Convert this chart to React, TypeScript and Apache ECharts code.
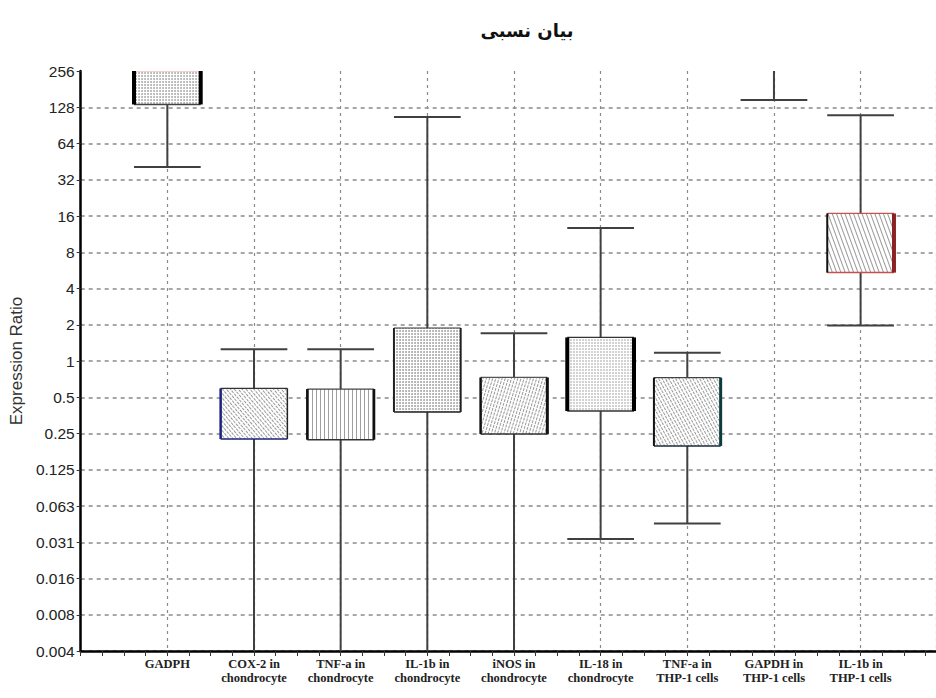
import React, { useEffect, useRef } from "react";
import * as echarts from "echarts";

const TITLE = "بیان نسبی";
const Y_NAME = "Expression Ratio";
const CATEGORIES = [
  "GADPH",
  "COX-2 in\nchondrocyte",
  "TNF-a in\nchondrocyte",
  "IL-1b in\nchondrocyte",
  "iNOS in\nchondrocyte",
  "IL-18 in\nchondrocyte",
  "TNF-a in\nTHP-1 cells",
  "GAPDH in\nTHP-1 cells",
  "IL-1b in\nTHP-1 cells",
];
// values below 1/256 or above 256 run off the plotted range
const WHISKER_LOW = [40.8, 0.002, 0.002, 0.002, 0.002, 0.0333, 0.0448, 147, 1.97];
const BOX_LOW = [135, 0.225, 0.222, 0.377, 0.248, 0.384, 0.197, 300, 5.42];
const BOX_HIGH = [256, 0.593, 0.585, 1.88, 0.73, 1.57, 0.727, 400, 16.8];
const WHISKER_HIGH = [256, 1.25, 1.25, 106, 1.7, 12.7, 1.17, 500, 110];

const Y_MIN = 1 / 256;
const Y_MAX = 256;
const X_MAX = 9.87;

// per-box outline styling (visual only)
const EDGES = [
  { l: 4, r: 4, lc: "#000", rc: "#000", top: "#f4a08c", bottom: "#444" },
  { l: 2.5, r: 1.5, lc: "#1a237e", rc: "#222", top: "#333", bottom: "#1a237e" },
  { l: 2.5, r: 2.5, lc: "#111", rc: "#111", top: "#444", bottom: "#333" },
  { l: 2, r: 2, lc: "#222", rc: "#222", top: "#333", bottom: "#222" },
  { l: 2.5, r: 3, lc: "#111", rc: "#111", top: "#555", bottom: "#333" },
  { l: 4, r: 4, lc: "#000", rc: "#000", top: "#333", bottom: "#333" },
  { l: 2, r: 3, lc: "#111", rc: "#0b3b3b", top: "#444", bottom: "#1a2a3a" },
  { l: 2, r: 2, lc: "#222", rc: "#222", top: "#333", bottom: "#333" },
  { l: 2, r: 4, lc: "#111", rc: "#8b2323", top: "#c85050", bottom: "#c85050" },
];

const DECALS: any[] = [
  { symbol: "circle", symbolSize: 0.9, dashArrayX: [2, 1], dashArrayY: [2, 1], color: "#a8a8a8" },
  { symbol: "rect", symbolSize: 1, dashArrayX: [1, 2], dashArrayY: [3, 1], rotation: -0.7, color: "#999" },
  { symbol: "rect", symbolSize: 1, dashArrayX: [1, 3], dashArrayY: [8, 0], color: "#a0a0a0" },
  { symbol: "circle", symbolSize: 0.9, dashArrayX: [2, 1], dashArrayY: [2, 1], color: "#a0a0a0" },
  { symbol: "rect", symbolSize: 1, dashArrayX: [1, 2], dashArrayY: [3, 1], rotation: 0.3, color: "#999" },
  { symbol: "rect", symbolSize: 0.8, dashArrayX: [2, 1], dashArrayY: [2, 1], color: "#b4b4b4" },
  { symbol: "rect", symbolSize: 1, dashArrayX: [1, 2], dashArrayY: [3, 1], rotation: -0.5, color: "#999" },
  { symbol: "rect", symbolSize: 1, dashArrayX: [1, 2], dashArrayY: [3, 1], rotation: -0.5, color: "#999" },
  { symbol: "rect", symbolSize: 1, dashArrayX: [1, 3], dashArrayY: [8, 0], rotation: -0.35, color: "#999" },
];

function fmtY(v: number): string {
  if (v >= 1) return String(Math.round(v));
  return String(parseFloat(v.toFixed(3)));
}

export default function App() {
  const ref = useRef<HTMLDivElement>(null);
  useEffect(() => {
    if (!ref.current) return;
    const chart = echarts.init(ref.current, undefined, { renderer: "svg" });
    const data = CATEGORIES.map((_, i) => [
      i + 1,
      WHISKER_LOW[i],
      BOX_LOW[i],
      BOX_HIGH[i],
      WHISKER_HIGH[i],
    ]);
    const HALF = 0.385;
    const whisk = { stroke: "#404040", lineWidth: 2 };
    chart.setOption({
      animation: false,
      backgroundColor: "#fff",
      graphic: [
        {
          type: "text",
          x: 527,
          y: 30,
          style: {
            text: TITLE,
            font: "bold 18px 'DejaVu Sans'",
            fill: "#111",
            textAlign: "center",
            textVerticalAlign: "middle",
          },
        },
      ],
      grid: { left: 76, top: 71, right: 0, bottom: 47, containLabel: false },
      xAxis: {
        type: "value",
        min: 0,
        max: X_MAX,
        interval: 1,
        axisLine: { show: true, onZero: false, lineStyle: { color: "#000", width: 2.5 } },
        axisTick: { show: true, length: 5, lineStyle: { color: "#333", width: 1 } },
        minorTick: { show: true, splitNumber: 4, length: 5, lineStyle: { color: "#333", width: 1 } },
        splitLine: { show: true, lineStyle: { color: "#8a8a8a", type: [3, 4], width: 1.2 } },
        axisLabel: {
          margin: 6,
          showMaxLabel: false,
          fontFamily: "'Liberation Serif'",
          fontWeight: "bold",
          fontSize: 12.5,
          lineHeight: 14,
          color: "#222",
          verticalAlign: "top",
          formatter: (v: number) => {
            const i = Math.round(v) - 1;
            return CATEGORIES[i] ?? "";
          },
        },
      },
      yAxis: {
        type: "log",
        logBase: 2,
        min: Y_MIN,
        max: Y_MAX,
        interval: 1,
        splitNumber: 16,
        name: Y_NAME,
        nameLocation: "middle",
        nameGap: 50,
        nameRotate: 90,
        nameTextStyle: { fontFamily: "'Liberation Sans'", fontSize: 17, color: "#333" },
        axisLine: { show: true, lineStyle: { color: "#000", width: 2.5 } },
        axisTick: { show: true, length: 4, lineStyle: { color: "#333", width: 1 } },
        splitLine: {
          show: true,
          showMaxLine: false,
          lineStyle: { color: "#8a8a8a", type: [4, 4], width: 1.5 },
        },
        axisLabel: {
          margin: 6,
          fontFamily: "'Liberation Sans'",
          fontSize: 15.5,
          color: "#222",
          formatter: fmtY,
        },
      },
      series: [
        {
          type: "custom",
          clip: true,
          encode: { x: 0, y: [1, 2, 3, 4] },
          data,
          renderItem: (params: any, api: any) => {
            const i = params.dataIndex;
            const x = api.value(0);
            const wl = api.value(1);
            const q1 = api.value(2);
            const q3 = api.value(3);
            const wh = api.value(4);
            const cx = api.coord([x, q1])[0];
            const xl = api.coord([x - HALF, q1])[0];
            const xr = api.coord([x + HALF, q1])[0];
            const yWL = api.coord([x, wl])[1];
            const yQ1 = api.coord([x, q1])[1];
            const yQ3 = api.coord([x, q3])[1];
            const yWH = api.coord([x, wh])[1];
            const e = EDGES[i];
            const children: any[] = [
              { type: "line", shape: { x1: cx, y1: yWL, x2: cx, y2: yQ1 }, style: whisk },
              { type: "line", shape: { x1: cx, y1: yQ3, x2: cx, y2: yWH }, style: whisk },
              { type: "line", shape: { x1: xl, y1: yWL, x2: xr, y2: yWL }, style: whisk },
              { type: "line", shape: { x1: xl, y1: yWH, x2: xr, y2: yWH }, style: whisk },
              {
                type: "rect",
                shape: { x: xl, y: yQ3, width: xr - xl, height: yQ1 - yQ3 },
                style: { fill: "#fff", stroke: null, decal: DECALS[i] },
              },
              { type: "line", shape: { x1: xl, y1: yQ3, x2: xr, y2: yQ3 }, style: { stroke: e.top, lineWidth: 1.2 } },
              { type: "line", shape: { x1: xl, y1: yQ1, x2: xr, y2: yQ1 }, style: { stroke: e.bottom, lineWidth: 1.5 } },
              { type: "line", shape: { x1: xl, y1: yQ3, x2: xl, y2: yQ1 }, style: { stroke: e.lc, lineWidth: e.l } },
              { type: "line", shape: { x1: xr, y1: yQ3, x2: xr, y2: yQ1 }, style: { stroke: e.rc, lineWidth: e.r } },
            ];
            return { type: "group", children };
          },
        },
      ],
    });
    return () => chart.dispose();
  }, []);
  return (
    <div
      ref={ref}
      style={{ position: "absolute", left: 0, top: 0, width: 936, height: 698 }}
    />
  );
}
